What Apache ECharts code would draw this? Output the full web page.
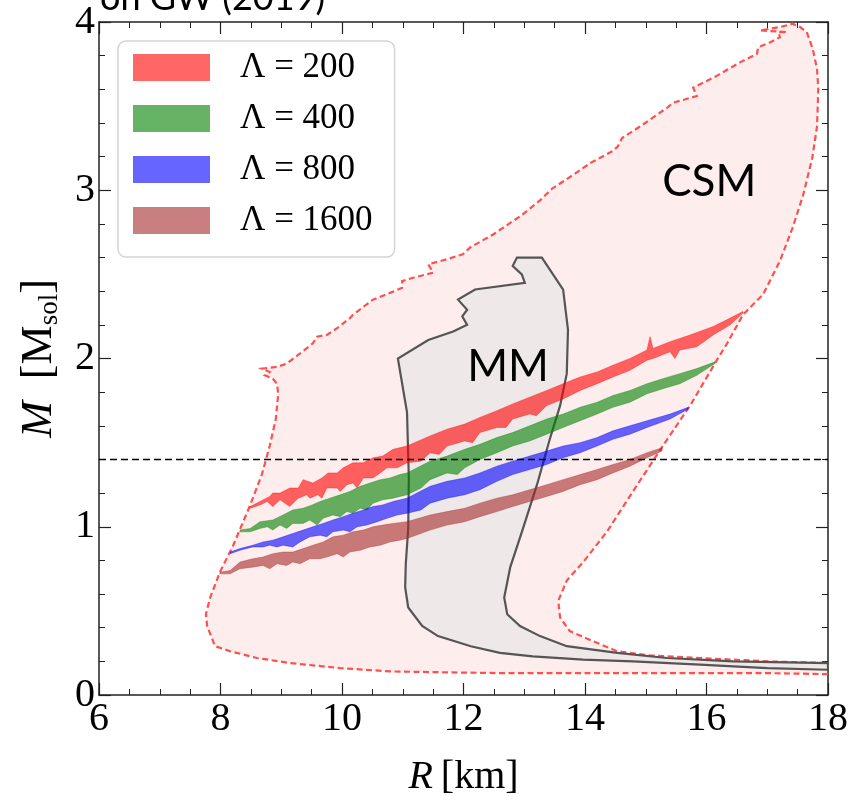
<!DOCTYPE html>
<html><head><meta charset="utf-8">
<script src="https://cdn.jsdelivr.net/npm/echarts@6.0.0/dist/echarts.min.js"></script>
<style>html,body{margin:0;padding:0;background:#fff}#chart{width:856px;height:804px}</style>
</head><body><div id="chart"></div>
<script>
// ---------- data (R in km, M in solar masses) ----------
const xRange = [6, 18];
const yRange = [0, 4];
const csmBoundary = [
  [18.0,0.124],[17.0,0.13],[15.07,0.13],[12.6,0.13],[10.79,0.14],[9.97,0.16],[9.14,0.19],[8.60,0.22],
  [8.16,0.26],[7.91,0.29],[7.78,0.41],[7.76,0.48],[7.83,0.58],[7.99,0.73],[8.21,0.89],[8.49,1.13],
  [8.68,1.31],[8.81,1.48],[8.91,1.64],[8.95,1.79],[8.93,1.85],[8.86,1.88],[8.73,1.90],[8.81,1.92],
  [8.68,1.94],[8.93,1.95],[9.09,1.97],[9.31,2.03],[9.52,2.09],[9.59,2.13],[9.75,2.14],[9.92,2.18],
  [10.13,2.24],[10.18,2.26],[10.51,2.35],[10.79,2.39],[10.99,2.42],[10.99,2.46],[11.17,2.48],[11.50,2.51],
  [11.42,2.56],[11.73,2.59],[11.99,2.62],[12.11,2.66],[12.50,2.74],[12.95,2.85],[13.26,2.94],[13.46,3.01],
  [13.80,3.09],[14.08,3.16],[14.44,3.23],[14.54,3.26],[14.61,3.31],[14.91,3.38],[15.35,3.49],[15.45,3.52],
  [15.84,3.56],[15.78,3.61],[16.17,3.68],[16.55,3.76],[16.83,3.81],[16.85,3.85],[17.05,3.88],[17.21,3.91],
  [17.18,3.94],[17.33,3.94],[16.88,3.95],[17.21,3.97],[17.42,3.99],[17.54,3.97],[17.65,3.94],[17.75,3.84],
  [17.82,3.72],[17.84,3.60],[17.82,3.38],[17.74,3.19],[17.59,2.97],[17.42,2.78],[17.21,2.58],[16.93,2.38],
  [16.60,2.26],[16.34,2.09],[16.17,1.99],[15.73,1.72],[15.28,1.48],[14.79,1.21],[14.36,0.97],[13.97,0.79],
  [13.70,0.68],[13.56,0.56],[13.59,0.46],[13.75,0.38],[14.13,0.32],[14.53,0.26],[15.07,0.235],[15.89,0.22],
  [17.0,0.20],[18.0,0.19]
];
const mmBoundary = [
  [12.88,2.60],[13.29,2.60],[13.64,2.41],[13.72,2.17],[13.70,1.91],[13.59,1.72],[13.42,1.52],[13.21,1.25],
  [12.98,0.99],[12.77,0.76],[12.67,0.58],[12.72,0.48],[12.93,0.41],[13.26,0.35],[13.70,0.29],[14.53,0.25],
  [15.35,0.22],[16.44,0.20],[18.0,0.19],[18.0,0.15],[17.0,0.16],[15.89,0.18],[14.79,0.20],[13.97,0.21],
  [13.14,0.23],[12.60,0.25],[12.12,0.29],[11.58,0.35],[11.32,0.41],[11.09,0.52],[11.04,0.64],[11.05,0.78],
  [11.09,0.99],[11.10,1.29],[11.07,1.68],[10.92,2.00],[11.42,2.11],[11.83,2.16],[12.06,2.20],[11.98,2.25],
  [12.06,2.29],[11.91,2.35],[12.19,2.41],[13.01,2.45],[12.96,2.50],[12.81,2.55]
];
// band edges: [R, M]
const band200Upper = [
  [8.49,1.12],[8.65,1.15],[8.81,1.18],[8.86,1.20],[8.98,1.20],[9.14,1.23],[9.28,1.23],[9.36,1.28],[9.52,1.26],
  [9.67,1.29],[9.77,1.32],[9.92,1.32],[10.02,1.35],[10.18,1.38],[10.35,1.38],[10.51,1.41],[10.67,1.42],[10.84,1.46],
  [11.07,1.48],[11.45,1.54],[11.73,1.58],[12.02,1.61],[12.27,1.65],[12.55,1.69],[12.81,1.73],[13.09,1.77],
  [13.37,1.81],[13.64,1.85],[13.92,1.89],[14.20,1.92],[14.46,1.96],[14.74,2.00],[15.02,2.05],[15.07,2.13],
  [15.12,2.06],[15.40,2.10],[15.73,2.14],[16.11,2.19],[16.39,2.24],[16.60,2.28]
];
const band200Lower = [
  [8.49,1.11],[8.65,1.13],[8.77,1.15],[8.86,1.12],[8.98,1.16],[9.14,1.12],[9.28,1.17],[9.42,1.19],[9.47,1.17],
  [9.60,1.19],[9.67,1.17],[9.75,1.23],[9.92,1.23],[9.97,1.21],[10.08,1.25],[10.18,1.26],[10.25,1.23],[10.35,1.29],
  [10.51,1.29],[10.63,1.32],[10.74,1.35],[10.91,1.35],[11.07,1.38],[11.30,1.39],[11.45,1.44],[11.60,1.43],
  [11.73,1.48],[12.02,1.51],[12.15,1.50],[12.27,1.56],[12.55,1.59],[12.70,1.59],[12.81,1.64],[13.09,1.67],
  [13.20,1.66],[13.37,1.72],[13.64,1.76],[13.92,1.81],[14.20,1.85],[14.46,1.89],[14.74,1.93],[15.02,1.99],
  [15.12,2.00],[15.40,2.04],[15.48,2.00],[15.56,2.05],[15.84,2.07],[16.11,2.14],[16.39,2.20],[16.60,2.27]
];
const band400Upper = [
  [8.32,0.98],[8.49,0.99],[8.65,1.03],[8.86,1.04],[9.03,1.07],[9.19,1.10],[9.36,1.11],[9.51,1.13],[9.64,1.15],
  [9.80,1.17],[9.97,1.19],[10.13,1.21],[10.30,1.24],[10.46,1.26],[10.63,1.28],[10.79,1.29],[10.95,1.31],[11.07,1.32],
  [11.45,1.39],[11.73,1.42],[12.02,1.46],[12.27,1.49],[12.55,1.53],[12.81,1.56],[13.09,1.60],[13.37,1.64],
  [13.64,1.67],[13.92,1.71],[14.20,1.74],[14.46,1.78],[14.74,1.81],[15.02,1.85],[15.28,1.88],[15.56,1.91],
  [15.84,1.94],[16.14,1.98]
];
const band400Lower = [
  [8.32,0.97],[8.49,0.97],[8.65,0.99],[8.77,1.00],[8.86,0.98],[8.98,1.01],[9.09,0.99],[9.19,1.02],[9.36,1.02],
  [9.47,1.04],[9.59,1.01],[9.69,1.05],[9.85,1.07],[9.97,1.06],[10.08,1.09],[10.18,1.08],[10.30,1.11],[10.41,1.10],
  [10.51,1.14],[10.67,1.16],[10.84,1.17],[11.07,1.19],[11.30,1.23],[11.45,1.28],[11.73,1.32],[11.90,1.31],
  [12.02,1.35],[12.27,1.40],[12.55,1.44],[12.81,1.48],[13.09,1.51],[13.37,1.55],[13.64,1.59],[13.92,1.63],
  [14.20,1.67],[14.46,1.71],[14.74,1.74],[15.02,1.79],[15.28,1.82],[15.56,1.85],[15.84,1.90],[16.14,1.97]
];
const band800Upper = [
  [8.16,0.85],[8.32,0.87],[8.53,0.89],[8.70,0.91],[8.86,0.92],[9.03,0.94],[9.19,0.96],[9.36,0.98],[9.52,1.00],
  [9.69,1.02],[9.85,1.04],[10.02,1.06],[10.18,1.08],[10.35,1.10],[10.51,1.12],[10.67,1.13],[10.84,1.15],[11.07,1.17],
  [11.45,1.24],[11.73,1.27],[12.02,1.29],[12.27,1.32],[12.55,1.36],[12.81,1.39],[13.09,1.42],[13.37,1.45],
  [13.64,1.48],[13.92,1.50],[14.20,1.53],[14.46,1.57],[14.74,1.60],[15.02,1.63],[15.40,1.67],[15.70,1.71]
];
const band800Lower = [
  [8.16,0.84],[8.32,0.86],[8.53,0.88],[8.70,0.88],[8.81,0.89],[8.93,0.88],[9.03,0.89],[9.19,0.88],[9.31,0.91],
  [9.47,0.94],[9.64,0.95],[9.75,0.94],[9.85,0.97],[10.02,0.98],[10.13,0.97],[10.25,1.00],[10.41,1.01],[10.58,1.03],
  [10.74,1.05],[10.91,1.07],[11.07,1.08],[11.30,1.10],[11.45,1.14],[11.73,1.17],[12.02,1.19],[12.27,1.22],
  [12.55,1.27],[12.81,1.31],[13.09,1.34],[13.37,1.37],[13.64,1.41],[13.92,1.44],[14.20,1.48],[14.46,1.52],
  [14.74,1.55],[15.02,1.59],[15.40,1.64],[15.70,1.70]
];
const band1600Upper = [
  [7.99,0.73],[8.16,0.74],[8.32,0.79],[8.53,0.81],[8.70,0.82],[8.86,0.84],[9.03,0.85],[9.19,0.85],[9.36,0.87],
  [9.52,0.89],[9.69,0.91],[9.85,0.94],[10.02,0.95],[10.18,0.97],[10.35,0.98],[10.51,1.00],[10.67,1.01],[10.84,1.02],
  [11.07,1.03],[11.45,1.07],[11.73,1.09],[12.02,1.11],[12.27,1.14],[12.55,1.17],[12.81,1.19],[13.09,1.22],
  [13.37,1.25],[13.64,1.28],[13.92,1.31],[14.20,1.34],[14.46,1.37],[14.74,1.40],[15.02,1.44],[15.27,1.47]
];
const band1600Lower = [
  [7.99,0.72],[8.16,0.72],[8.32,0.75],[8.53,0.76],[8.70,0.77],[8.81,0.75],[8.93,0.78],[9.09,0.77],[9.19,0.79],
  [9.31,0.78],[9.47,0.81],[9.64,0.81],[9.75,0.82],[9.92,0.84],[10.02,0.82],[10.13,0.85],[10.30,0.86],[10.46,0.88],
  [10.63,0.89],[10.79,0.91],[10.95,0.92],[11.07,0.93],[11.45,0.98],[11.73,1.01],[12.02,1.03],[12.27,1.06],
  [12.55,1.09],[12.81,1.12],[13.09,1.15],[13.37,1.18],[13.64,1.21],[13.92,1.25],[14.20,1.28],[14.46,1.32],
  [14.74,1.36],[15.02,1.41],[15.27,1.45]
];
const lambdaLabels = ['\u039b = 200', '\u039b = 400', '\u039b = 800', '\u039b = 1600'];
const refMass = 1.4;
const refLine = [[6, refMass], [18, refMass]];
const regionLabels = [[15.27, 3.05, 'CSM'], [12.06, 1.95, 'MM']];
const titleText = 'on GW (2019)';

// ---------- styles ----------
const bandFill = ['rgba(255,0,0,0.6)', 'rgba(0,128,0,0.6)', 'rgba(0,0,255,0.6)', 'rgba(165,42,42,0.6)'];
const legendFill = ['#ff6666', '#66b366', '#6666ff', '#c97f7f'];
const serif = 'Liberation Serif';
const axisColor = '#222';

function polygonSeries(name, points, style, z) {
  return {
    type: 'custom', name: name, coordinateSystem: 'cartesian2d',
    xAxisIndex: 0, yAxisIndex: 0, clip: true, z: z, silent: true,
    itemStyle: { color: style.fill },
    data: [[points[0][0], points[0][1]]],
    renderItem: function (params, api) {
      return { type: 'polygon', shape: { points: points.map(function (p) { return api.coord(p); }) }, style: style };
    }
  };
}
const bands = [
  [band200Upper, band200Lower], [band400Upper, band400Lower],
  [band800Upper, band800Lower], [band1600Upper, band1600Lower]
];

const series = [
  polygonSeries('CSM', csmBoundary, { fill: 'rgba(250,80,80,0.1)', stroke: '#ff5050', lineWidth: 2.2, lineDash: [6, 3.5] }, 1),
  polygonSeries('MM', mmBoundary, { fill: '#eee8e8', stroke: '#555', lineWidth: 2.2 }, 2)
];
bands.forEach(function (b, i) {
  const pts = b[0].concat(b[1].slice().reverse());
  series.push(polygonSeries(lambdaLabels[i], pts, { fill: bandFill[i], stroke: bandFill[i], lineWidth: 0.6 }, 3 + i));
});
series.push({
  type: 'line', name: 'ref', data: refLine, symbol: 'none', z: 10, silent: true,
  lineStyle: { color: '#000', width: 1.6, type: [7, 4] }
});
series.push({
  type: 'custom', name: 'labels', coordinateSystem: 'cartesian2d', z: 11, silent: true,
  data: regionLabels,
  renderItem: function (params, api) {
    const p = api.coord([api.value(0), api.value(1)]);
    return { type: 'text', x: p[0], y: p[1],
      style: { text: regionLabels[params.dataIndex][2], fill: '#000', font: '44px Lato', textAlign: 'left', textVerticalAlign: 'middle' } };
  }
});

function axisCommon(extra) {
  return Object.assign({
    type: 'value', splitLine: { show: false },
    axisLine: { show: true, onZero: false, lineStyle: { color: axisColor, width: 1.5 } },
    axisTick: { show: true, inside: true, length: 12, lineStyle: { color: axisColor, width: 1.2 } },
    minorTick: { show: true, length: 6, lineStyle: { color: axisColor, width: 1 } },
    axisLabel: { color: '#000', fontFamily: serif, fontSize: 40 }
  }, extra);
}

const option = {
  animation: false,
  grid: { left: 99, right: 28, top: 22, bottom: 102, containLabel: false },
  xAxis: [
    axisCommon({ min: xRange[0], max: xRange[1], interval: 2, position: 'bottom',
      minorTick: { show: true, splitNumber: 4, length: 6, lineStyle: { color: axisColor, width: 1 } },
      axisLabel: { color: '#000', fontFamily: serif, fontSize: 40, margin: 4 },
      name: '{i|R}\u2009[km]', nameLocation: 'middle', nameGap: 60,
      nameTextStyle: { fontFamily: serif, fontSize: 40, color: '#000', lineHeight: 44,
        rich: { i: { fontFamily: serif, fontSize: 40, fontStyle: 'italic', lineHeight: 44 } } } }),
    axisCommon({ min: xRange[0], max: xRange[1], interval: 2, position: 'top',
      minorTick: { show: true, splitNumber: 4, length: 6, lineStyle: { color: axisColor, width: 1 } },
      axisLabel: { show: false } })
  ],
  yAxis: [
    axisCommon({ min: yRange[0], max: yRange[1], interval: 1, position: 'left',
      minorTick: { show: true, splitNumber: 5, length: 6, lineStyle: { color: axisColor, width: 1 } },
      axisLabel: { color: '#000', fontFamily: serif, fontSize: 40, margin: 4 },
      name: '{i|M}\u2002[M{s|sol}]', nameLocation: 'middle', nameGap: 36, nameRotate: 90,
      nameTextStyle: { fontFamily: serif, fontSize: 44, color: '#000', lineHeight: 48,
        rich: { i: { fontFamily: serif, fontSize: 44, fontStyle: 'italic', lineHeight: 48 },
                s: { fontFamily: serif, fontSize: 27, lineHeight: 48, verticalAlign: 'bottom' } } } }),
    axisCommon({ min: yRange[0], max: yRange[1], interval: 1, position: 'right',
      minorTick: { show: true, splitNumber: 5, length: 6, lineStyle: { color: axisColor, width: 1 } },
      axisLabel: { show: false } })
  ],
  legend: {
    orient: 'vertical', left: 118, top: 41, padding: [9, 22, 19, 15],
    itemWidth: 77, itemHeight: 27, itemGap: 16, icon: 'rect',
    backgroundColor: 'rgba(255,255,255,0.85)', borderColor: '#d4d4d4', borderWidth: 1.5, borderRadius: 8,
    textStyle: { fontFamily: serif, fontSize: 35, color: '#000', lineHeight: 27, padding: [0, 0, 0, 25] },
    selectedMode: false,
    data: lambdaLabels.map(function (n, i) { return { name: n, icon: 'rect', itemStyle: { color: legendFill[i], borderWidth: 0 } }; })
  },
  graphic: [
    { type: 'text', x: 100, y: 16, silent: true,
      style: { text: titleText, font: '36px Lato', fill: '#000', textVerticalAlign: 'bottom' } }
  ],
  series: series
};

const chart = echarts.init(document.getElementById('chart'));
chart.setOption(option);
</script>
</body></html>
